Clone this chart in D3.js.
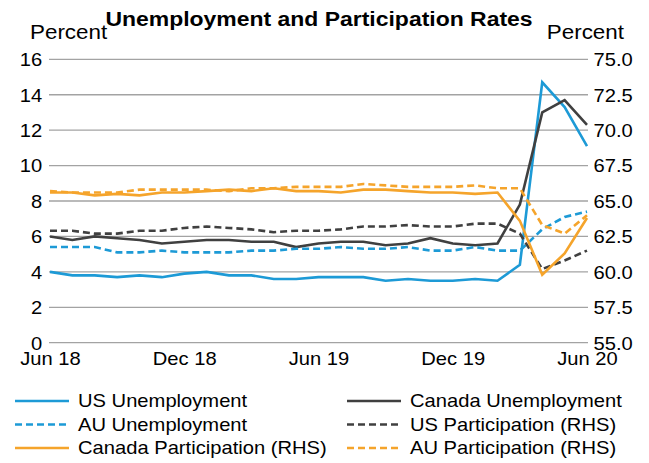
<!DOCTYPE html>
<html lang="en">
<head>
<meta charset="UTF-8">
<title>Unemployment and Participation Rates</title>
<script src="https://cdn.jsdelivr.net/npm/d3@7"></script>
<style>
  body { margin: 0; background: #fff; }
  text { font-family: "Liberation Sans", Arial, sans-serif; fill: #000; }
</style>
</head>
<body>
<script>
    // monthly, Jun 2018 .. Jun 2020
    var months = d3.range(25);
    var tickMonths = [0, 6, 12, 18, 24];
    var tickLabels = ["Jun 18", "Dec 18", "Jun 19", "Dec 19", "Jun 20"];
    var leftTicks = [0, 2, 4, 6, 8, 10, 12, 14, 16];
    var rightTicks = [55, 57.5, 60, 62.5, 65, 67.5, 70, 72.5, 75];

    var usUnemp = [4.0, 3.8, 3.8, 3.7, 3.8, 3.7, 3.9, 4.0, 3.8, 3.8, 3.6, 3.6, 3.7,
                   3.7, 3.7, 3.5, 3.6, 3.5, 3.5, 3.6, 3.5, 4.4, 14.7, 13.3, 11.1];
    var caUnemp = [6.0, 5.8, 6.0, 5.9, 5.8, 5.6, 5.7, 5.8, 5.8, 5.7, 5.7, 5.4, 5.6,
                   5.7, 5.7, 5.5, 5.6, 5.9, 5.6, 5.5, 5.6, 7.8, 13.0, 13.7, 12.3];
    var auUnemp = [5.4, 5.4, 5.4, 5.1, 5.1, 5.2, 5.1, 5.1, 5.1, 5.2, 5.2, 5.3, 5.3,
                   5.4, 5.3, 5.3, 5.4, 5.2, 5.2, 5.4, 5.2, 5.2, 6.4, 7.1, 7.4];
    var usPart = [62.9, 62.9, 62.7, 62.7, 62.9, 62.9, 63.1, 63.2, 63.1, 63.0, 62.8, 62.9, 62.9,
                  63.0, 63.2, 63.2, 63.3, 63.2, 63.2, 63.4, 63.4, 62.7, 60.2, 60.8, 61.5];
    var caPart = [65.6, 65.6, 65.4, 65.5, 65.4, 65.6, 65.6, 65.7, 65.8, 65.7, 65.9, 65.7, 65.7,
                  65.6, 65.8, 65.8, 65.7, 65.6, 65.6, 65.5, 65.6, 63.6, 59.8, 61.3, 63.8];
    var auPart = [65.7, 65.6, 65.6, 65.6, 65.8, 65.8, 65.8, 65.8, 65.7, 65.9, 65.9, 66.0, 66.0,
                  66.0, 66.2, 66.1, 66.0, 66.0, 66.0, 66.1, 65.9, 65.9, 63.3, 62.7, 64.0];

    var blue = "#1d9ad6", dark = "#404040", orange = "#f5a42b";
    var dashed = "7,4";
    var sx = 1.12; // text in the original is a little wide

    var series = [
        {name: "US Unemployment", values: usUnemp, axis: "L", color: blue, dash: null},
        {name: "Canada Unemployment", values: caUnemp, axis: "L", color: dark, dash: null},
        {name: "AU Unemployment", values: auUnemp, axis: "L", color: blue, dash: dashed},
        {name: "US Participation (RHS)", values: usPart, axis: "R", color: dark, dash: dashed},
        {name: "Canada Participation (RHS)", values: caPart, axis: "R", color: orange, dash: null},
        {name: "AU Participation (RHS)", values: auPart, axis: "R", color: orange, dash: dashed}
    ];

    var W = 649, H = 463;
    var svg = d3.select("body").append("svg")
        .attr("width", W).attr("height", H);

    var x = d3.scaleLinear().domain([0, 24]).range([50, 587]);
    var yL = d3.scaleLinear().domain([0, 16]).range([342.7, 59.3]);
    var yR = d3.scaleLinear().domain([55, 75]).range([342.7, 59.3]);

    function label(px, py, txt, size, anchor, bold) {
        return svg.append("text")
            .attr("transform", "translate(" + px + "," + py + ") scale(" + sx + ",1)")
            .attr("text-anchor", anchor || "start")
            .style("font-size", size + "px")
            .style("font-weight", bold ? "bold" : "normal")
            .text(txt);
    }

    // grid
    svg.append("g").selectAll("line").data(leftTicks).enter().append("line")
        .attr("x1", 49).attr("x2", 588)
        .attr("y1", function(d) { return yL(d); })
        .attr("y2", function(d) { return yL(d); })
        .attr("stroke", "#a3a3a3").attr("stroke-width", 1.3);

    // left axis
    var gL = svg.append("g").attr("transform", "translate(49,0)")
        .call(d3.axisLeft(yL).tickValues(leftTicks).tickSize(0).tickPadding(6));
    gL.select(".domain").remove();
    gL.selectAll("text").style("font-size", "18px").attr("dy", "0.35em")
        .attr("transform", "scale(" + sx + ",1)");

    // right axis
    var gR = svg.append("g").attr("transform", "translate(588,0)")
        .call(d3.axisRight(yR).tickValues(rightTicks).tickSize(0).tickPadding(5)
            .tickFormat(d3.format(".1f")));
    gR.select(".domain").remove();
    gR.selectAll("text").style("font-size", "18px").attr("dy", "0.35em")
        .attr("transform", "scale(" + sx + ",1)");

    // bottom axis
    var gB = svg.append("g").attr("transform", "translate(0,343)")
        .call(d3.axisBottom(x).tickValues(tickMonths).tickSize(0).tickPadding(9)
            .tickFormat(function(d, i) { return tickLabels[i]; }));
    gB.select(".domain").remove();
    gB.selectAll("text").style("font-size", "18px").attr("dy", "0.71em")
        .attr("transform", "scale(" + sx + ",1)");

    // lines
    series.forEach(function(s) {
        var ys = s.axis === "L" ? yL : yR;
        var line = d3.line()
            .x(function(d, i) { return x(months[i]); })
            .y(function(d) { return ys(d); });
        svg.append("path").datum(s.values)
            .attr("d", line)
            .attr("fill", "none")
            .attr("stroke", s.color)
            .attr("stroke-width", 2.6)
            .attr("stroke-dasharray", s.dash);
    });

    // titles
    label(319, 26, "Unemployment and Participation Rates", 20.5, "middle", true);
    label(30, 39, "Percent", 20, "start");
    label(624, 39, "Percent", 20, "end");

    // legend
    var leg = svg.append("g").selectAll("g").data(series).enter().append("g")
        .attr("transform", function(d, i) {
            return "translate(" + (i % 2 === 0 ? 15 : 347) + "," + (401 + Math.floor(i / 2) * 23.5) + ")";
        });
    leg.append("line")
        .attr("x1", 0).attr("x2", 54).attr("y1", 0).attr("y2", 0)
        .attr("stroke", function(d) { return d.color; })
        .attr("stroke-width", 2.6)
        .attr("stroke-dasharray", function(d) { return d.dash; });
    leg.append("text")
        .attr("transform", "translate(63,0) scale(" + sx + ",1)")
        .attr("dy", "0.35em")
        .style("font-size", "18px")
        .text(function(d) { return d.name; });
</script>
</body>
</html>
